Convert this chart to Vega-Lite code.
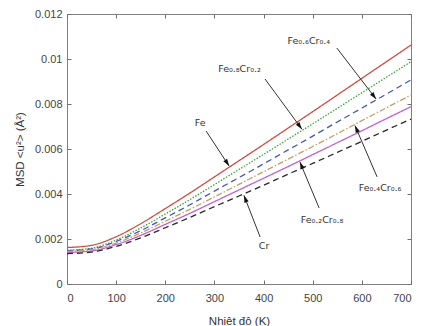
{
  "$schema": "https://vega.github.io/schema/vega-lite/v6.json",
  "width": 344,
  "height": 270,
  "autosize": {"type": "none"},
  "padding": {"left": 67, "top": 14, "right": 13, "bottom": 42},
  "background": "white",
  "config": {
    "font": "Liberation Sans",
    "view": {"stroke": "#808080", "strokeWidth": 1},
    "axis": {
      "domain": false,
      "tickColor": "#707070",
      "tickSize": 4,
      "offset": -4,
      "labelFont": "Liberation Sans",
      "labelFontSize": 11,
      "labelColor": "#444",
      "titleFont": "Liberation Sans",
      "titleFontSize": 11.5,
      "titleFontWeight": "normal",
      "titleColor": "#333",
      "grid": false
    }
  },
  "datasets": {
    "msd": [
      {"T": 0, "msd": 0.00162, "alloy": "Fe"},
      {"T": 50, "msd": 0.00172, "alloy": "Fe"},
      {"T": 100, "msd": 0.00210, "alloy": "Fe"},
      {"T": 150, "msd": 0.00268, "alloy": "Fe"},
      {"T": 200, "msd": 0.00335, "alloy": "Fe"},
      {"T": 250, "msd": 0.00404, "alloy": "Fe"},
      {"T": 300, "msd": 0.00476, "alloy": "Fe"},
      {"T": 350, "msd": 0.00548, "alloy": "Fe"},
      {"T": 400, "msd": 0.00620, "alloy": "Fe"},
      {"T": 450, "msd": 0.00693, "alloy": "Fe"},
      {"T": 500, "msd": 0.00766, "alloy": "Fe"},
      {"T": 550, "msd": 0.00840, "alloy": "Fe"},
      {"T": 600, "msd": 0.00914, "alloy": "Fe"},
      {"T": 650, "msd": 0.00988, "alloy": "Fe"},
      {"T": 700, "msd": 0.01062, "alloy": "Fe"},
      {"T": 0, "msd": 0.00150, "alloy": "Fe0.8Cr0.2"},
      {"T": 50, "msd": 0.00159, "alloy": "Fe0.8Cr0.2"},
      {"T": 100, "msd": 0.00195, "alloy": "Fe0.8Cr0.2"},
      {"T": 150, "msd": 0.00249, "alloy": "Fe0.8Cr0.2"},
      {"T": 200, "msd": 0.00311, "alloy": "Fe0.8Cr0.2"},
      {"T": 250, "msd": 0.00375, "alloy": "Fe0.8Cr0.2"},
      {"T": 300, "msd": 0.00442, "alloy": "Fe0.8Cr0.2"},
      {"T": 350, "msd": 0.00509, "alloy": "Fe0.8Cr0.2"},
      {"T": 400, "msd": 0.00576, "alloy": "Fe0.8Cr0.2"},
      {"T": 450, "msd": 0.00644, "alloy": "Fe0.8Cr0.2"},
      {"T": 500, "msd": 0.00712, "alloy": "Fe0.8Cr0.2"},
      {"T": 550, "msd": 0.00781, "alloy": "Fe0.8Cr0.2"},
      {"T": 600, "msd": 0.00850, "alloy": "Fe0.8Cr0.2"},
      {"T": 650, "msd": 0.00919, "alloy": "Fe0.8Cr0.2"},
      {"T": 700, "msd": 0.00988, "alloy": "Fe0.8Cr0.2"},
      {"T": 0, "msd": 0.00148, "alloy": "Fe0.6Cr0.4"},
      {"T": 50, "msd": 0.00156, "alloy": "Fe0.6Cr0.4"},
      {"T": 100, "msd": 0.00189, "alloy": "Fe0.6Cr0.4"},
      {"T": 150, "msd": 0.00237, "alloy": "Fe0.6Cr0.4"},
      {"T": 200, "msd": 0.00294, "alloy": "Fe0.6Cr0.4"},
      {"T": 250, "msd": 0.00352, "alloy": "Fe0.6Cr0.4"},
      {"T": 300, "msd": 0.00413, "alloy": "Fe0.6Cr0.4"},
      {"T": 350, "msd": 0.00473, "alloy": "Fe0.6Cr0.4"},
      {"T": 400, "msd": 0.00534, "alloy": "Fe0.6Cr0.4"},
      {"T": 450, "msd": 0.00596, "alloy": "Fe0.6Cr0.4"},
      {"T": 500, "msd": 0.00657, "alloy": "Fe0.6Cr0.4"},
      {"T": 550, "msd": 0.00720, "alloy": "Fe0.6Cr0.4"},
      {"T": 600, "msd": 0.00782, "alloy": "Fe0.6Cr0.4"},
      {"T": 650, "msd": 0.00844, "alloy": "Fe0.6Cr0.4"},
      {"T": 700, "msd": 0.00907, "alloy": "Fe0.6Cr0.4"},
      {"T": 0, "msd": 0.00145, "alloy": "Fe0.4Cr0.6"},
      {"T": 50, "msd": 0.00153, "alloy": "Fe0.4Cr0.6"},
      {"T": 100, "msd": 0.00182, "alloy": "Fe0.4Cr0.6"},
      {"T": 150, "msd": 0.00227, "alloy": "Fe0.4Cr0.6"},
      {"T": 200, "msd": 0.00279, "alloy": "Fe0.4Cr0.6"},
      {"T": 250, "msd": 0.00332, "alloy": "Fe0.4Cr0.6"},
      {"T": 300, "msd": 0.00387, "alloy": "Fe0.4Cr0.6"},
      {"T": 350, "msd": 0.00443, "alloy": "Fe0.4Cr0.6"},
      {"T": 400, "msd": 0.00499, "alloy": "Fe0.4Cr0.6"},
      {"T": 450, "msd": 0.00555, "alloy": "Fe0.4Cr0.6"},
      {"T": 500, "msd": 0.00611, "alloy": "Fe0.4Cr0.6"},
      {"T": 550, "msd": 0.00668, "alloy": "Fe0.4Cr0.6"},
      {"T": 600, "msd": 0.00726, "alloy": "Fe0.4Cr0.6"},
      {"T": 650, "msd": 0.00783, "alloy": "Fe0.4Cr0.6"},
      {"T": 700, "msd": 0.00840, "alloy": "Fe0.4Cr0.6"},
      {"T": 0, "msd": 0.00140, "alloy": "Fe0.2Cr0.8"},
      {"T": 50, "msd": 0.00147, "alloy": "Fe0.2Cr0.8"},
      {"T": 100, "msd": 0.00175, "alloy": "Fe0.2Cr0.8"},
      {"T": 150, "msd": 0.00216, "alloy": "Fe0.2Cr0.8"},
      {"T": 200, "msd": 0.00265, "alloy": "Fe0.2Cr0.8"},
      {"T": 250, "msd": 0.00314, "alloy": "Fe0.2Cr0.8"},
      {"T": 300, "msd": 0.00366, "alloy": "Fe0.2Cr0.8"},
      {"T": 350, "msd": 0.00418, "alloy": "Fe0.2Cr0.8"},
      {"T": 400, "msd": 0.00470, "alloy": "Fe0.2Cr0.8"},
      {"T": 450, "msd": 0.00522, "alloy": "Fe0.2Cr0.8"},
      {"T": 500, "msd": 0.00575, "alloy": "Fe0.2Cr0.8"},
      {"T": 550, "msd": 0.00628, "alloy": "Fe0.2Cr0.8"},
      {"T": 600, "msd": 0.00681, "alloy": "Fe0.2Cr0.8"},
      {"T": 650, "msd": 0.00735, "alloy": "Fe0.2Cr0.8"},
      {"T": 700, "msd": 0.00788, "alloy": "Fe0.2Cr0.8"},
      {"T": 0, "msd": 0.00135, "alloy": "Cr"},
      {"T": 50, "msd": 0.00142, "alloy": "Cr"},
      {"T": 100, "msd": 0.00167, "alloy": "Cr"},
      {"T": 150, "msd": 0.00205, "alloy": "Cr"},
      {"T": 200, "msd": 0.00250, "alloy": "Cr"},
      {"T": 250, "msd": 0.00296, "alloy": "Cr"},
      {"T": 300, "msd": 0.00344, "alloy": "Cr"},
      {"T": 350, "msd": 0.00391, "alloy": "Cr"},
      {"T": 400, "msd": 0.00439, "alloy": "Cr"},
      {"T": 450, "msd": 0.00488, "alloy": "Cr"},
      {"T": 500, "msd": 0.00536, "alloy": "Cr"},
      {"T": 550, "msd": 0.00585, "alloy": "Cr"},
      {"T": 600, "msd": 0.00634, "alloy": "Cr"},
      {"T": 650, "msd": 0.00684, "alloy": "Cr"},
      {"T": 700, "msd": 0.00733, "alloy": "Cr"}
    ],
    "arrows": [
      {"alloy": "Fe", "x1": 283, "y1": 0.0068, "x2": 330, "y2": 0.00524},
      {"alloy": "Fe0.8Cr0.2", "x1": 403, "y1": 0.00911, "x2": 478, "y2": 0.00688},
      {"alloy": "Fe0.6Cr0.4", "x1": 549, "y1": 0.01049, "x2": 629, "y2": 0.00822},
      {"alloy": "Fe0.4Cr0.6", "x1": 631, "y1": 0.00476, "x2": 586, "y2": 0.00704},
      {"alloy": "Fe0.2Cr0.8", "x1": 513, "y1": 0.00338, "x2": 474, "y2": 0.00542},
      {"alloy": "Cr", "x1": 393, "y1": 0.00209, "x2": 360, "y2": 0.00394}
    ],
    "labels": [
      {"label": "Fe", "x": 271, "y": 0.00716},
      {"label": "Fe₀.₈Cr₀.₂", "x": 351, "y": 0.00955},
      {"label": "Fe₀.₆Cr₀.₄", "x": 492, "y": 0.0108},
      {"label": "Fe₀.₄Cr₀.₆", "x": 637, "y": 0.00427},
      {"label": "Fe₀.₂Cr₀.₈", "x": 519, "y": 0.00284},
      {"label": "Cr", "x": 401, "y": 0.00169}
    ]
  },
  "resolve": {"axis": {"x": "independent", "y": "independent"}},
  "layer": [
    {
      "data": {"name": "msd"},
      "mark": {"type": "line", "strokeWidth": 1.3, "interpolate": "monotone"},
      "encoding": {
        "x": {
          "field": "T", "type": "quantitative",
          "scale": {"domain": [0, 700], "nice": false},
          "axis": {"orient": "bottom", "values": [0, 100, 200, 300, 400, 500, 600, 700], "labelPadding": 8, "title": "Nhiệt độ (K)", "titlePadding": 12}
        },
        "y": {
          "field": "msd", "type": "quantitative",
          "scale": {"domain": [0, 0.012], "nice": false},
          "axis": {"orient": "left", "values": [0, 0.002, 0.004, 0.006, 0.008, 0.01, 0.012], "format": "~g", "labelPadding": 5, "title": "MSD <u²> (Å²)", "titlePadding": 9}
        },
        "color": {
          "field": "alloy", "type": "nominal", "legend": null,
          "scale": {
            "domain": ["Fe", "Fe0.8Cr0.2", "Fe0.6Cr0.4", "Fe0.4Cr0.6", "Fe0.2Cr0.8", "Cr"],
            "range": ["#d24c42", "#3d9f3d", "#4557b0", "#c2a068", "#bf62cf", "#2a2a2a"]
          }
        },
        "strokeDash": {
          "field": "alloy", "type": "nominal", "legend": null,
          "scale": {
            "domain": ["Fe", "Fe0.8Cr0.2", "Fe0.6Cr0.4", "Fe0.4Cr0.6", "Fe0.2Cr0.8", "Cr"],
            "range": [[1, 0], [1.5, 1.5], [6, 4], [6, 2, 1.5, 2], [1, 0], [6, 4]]
          }
        }
      }
    },
    {
      "data": {"name": "arrows"},
      "mark": {"type": "rule", "color": "#333", "strokeWidth": 1},
      "encoding": {
        "x": {"field": "x1", "type": "quantitative", "axis": {"orient": "top", "values": [0, 100, 200, 300, 400, 500, 600, 700], "labels": false, "title": null}},
        "y": {"field": "y1", "type": "quantitative", "axis": {"orient": "right", "values": [0, 0.002, 0.004, 0.006, 0.008, 0.01, 0.012], "labels": false, "title": null}},
        "x2": {"field": "x2"},
        "y2": {"field": "y2"}
      }
    },
    {
      "data": {"name": "arrows"},
      "transform": [
        {"calculate": "atan2((datum.x2 - datum.x1) * 0.4914, (datum.y2 - datum.y1) * 22500) * 180 / PI", "as": "ang"}
      ],
      "mark": {"type": "point", "shape": "M0,0L0.75,2.4L-0.75,2.4Z", "filled": true, "color": "#111", "size": 36, "opacity": 1},
      "encoding": {
        "x": {"field": "x2", "type": "quantitative", "axis": null},
        "y": {"field": "y2", "type": "quantitative", "axis": null},
        "angle": {"field": "ang", "type": "quantitative", "scale": null}
      }
    },
    {
      "data": {"name": "labels"},
      "mark": {"type": "text", "font": "DejaVu Sans", "fontSize": 9.5, "color": "#333", "align": "center", "baseline": "middle"},
      "encoding": {
        "x": {"field": "x", "type": "quantitative", "axis": null},
        "y": {"field": "y", "type": "quantitative", "axis": null},
        "text": {"field": "label"}
      }
    }
  ]
}
